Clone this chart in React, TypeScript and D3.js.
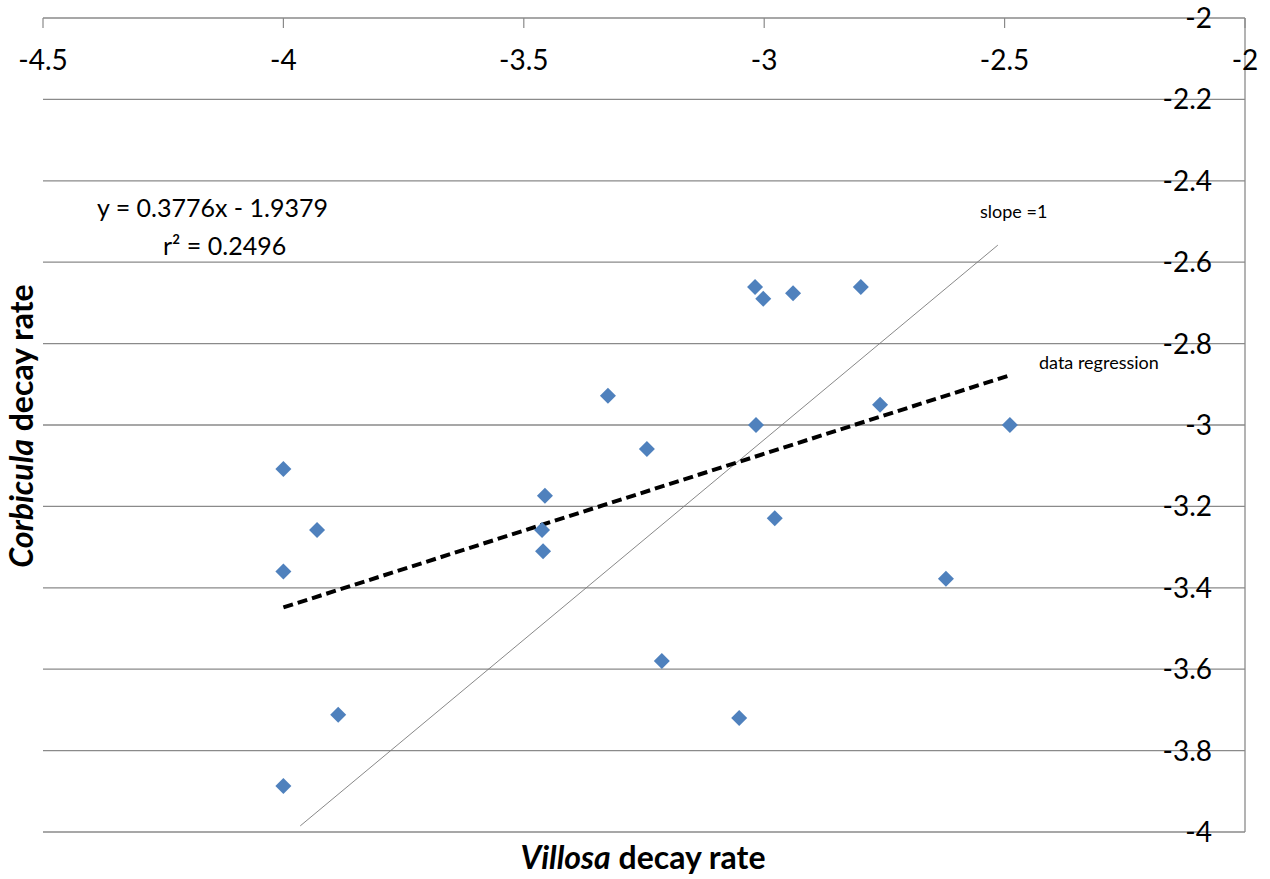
import * as d3 from "d3";
import { useEffect, useRef } from "react";

// Villosa (x) vs Corbicula (y) decay rates
const villosa = [-4.0, -3.93, -4.0, -3.886, -4.0, -3.325, -3.456, -3.462, -3.46, -3.244, -3.213, -3.052, -3.019, -3.002, -2.94, -3.017, -2.978, -2.799, -2.759, -2.622, -2.489];
const corbicula = [-3.108, -3.258, -3.36, -3.712, -3.887, -2.928, -3.174, -3.258, -3.31, -3.059, -3.58, -3.72, -2.661, -2.69, -2.676, -3.0, -3.229, -2.661, -2.95, -3.378, -3.0];

const xTicks = [-4.5, -4, -3.5, -3, -2.5, -2];
const yTicks = [-2, -2.2, -2.4, -2.6, -2.8, -3, -3.2, -3.4, -3.6, -3.8, -4];

const slope = 0.3776;
const intercept = -1.9379;
const slopeOneX = [-3.965, -2.514];
const slopeOneY = [-3.985, -2.558];

const W = 1270, H = 879;
const margin = { top: 18, right: 25, bottom: 47, left: 43 };
const font = "Lato, 'Open Sans', sans-serif";

const App = () => {
  const ref = useRef<SVGSVGElement>(null);

  useEffect(() => {
    const svg = d3.select(ref.current);
    svg.selectAll("*").remove();

    const x = d3.scaleLinear().domain([-4.5, -2]).range([margin.left, W - margin.right]);
    const y = d3.scaleLinear().domain([-2, -4]).range([margin.top, H - margin.bottom]);

    // horizontal gridlines
    svg.append("g")
      .selectAll("line")
      .data(yTicks)
      .enter()
      .append("line")
      .attr("x1", x(-4.5))
      .attr("x2", x(-2))
      .attr("y1", (d) => y(d))
      .attr("y2", (d) => y(d))
      .style("stroke", "#8a8a8a")
      .style("stroke-width", 1.3);

    // right vertical axis line
    svg.append("line")
      .attr("x1", x(-2)).attr("x2", x(-2))
      .attr("y1", y(-2)).attr("y2", y(-4))
      .style("stroke", "#8a8a8a")
      .style("stroke-width", 1.3);

    // top x-axis ticks
    svg.append("g")
      .selectAll("line")
      .data(xTicks)
      .enter()
      .append("line")
      .attr("x1", (d) => x(d))
      .attr("x2", (d) => x(d))
      .attr("y1", y(-2))
      .attr("y2", y(-2) + 10)
      .style("stroke", "#8a8a8a")
      .style("stroke-width", 1.2);

    svg.append("g")
      .selectAll("text")
      .data(xTicks)
      .enter()
      .append("text")
      .attr("x", (d) => x(d))
      .attr("y", 70)
      .attr("text-anchor", "middle")
      .style("font-family", font)
      .style("font-size", "28px")
      .style("fill", "#000")
      .text((d) => String(d));

    svg.append("g")
      .selectAll("text")
      .data(yTicks)
      .enter()
      .append("text")
      .attr("x", 1212)
      .attr("y", (d) => y(d) + 10)
      .attr("text-anchor", "end")
      .style("font-family", font)
      .style("font-size", "28px")
      .style("fill", "#000")
      .text((d) => String(d));

    // slope = 1 reference line
    svg.append("line")
      .attr("x1", x(slopeOneX[0])).attr("y1", y(slopeOneY[0]))
      .attr("x2", x(slopeOneX[1])).attr("y2", y(slopeOneY[1]))
      .style("stroke", "#7a7a7a")
      .style("stroke-width", 0.9);

    // regression line
    const xMin = d3.min(villosa)!, xMax = d3.max(villosa)!;
    svg.append("line")
      .attr("x1", x(xMin)).attr("y1", y(slope * xMin + intercept))
      .attr("x2", x(xMax)).attr("y2", y(slope * xMax + intercept))
      .style("stroke", "#000")
      .style("stroke-width", 4)
      .style("stroke-dasharray", "10,5");

    // points
    const diamond = d3.symbol().type(d3.symbolSquare).size(128);
    svg.append("g")
      .selectAll("path")
      .data(villosa.map((v, i) => [v, corbicula[i]]))
      .enter()
      .append("path")
      .attr("d", diamond)
      .attr("transform", (d) => `translate(${x(d[0])},${y(d[1])}) rotate(45)`)
      .style("fill", "#4f81bd");

    // annotations
    const ann = svg.append("g").style("font-family", font).style("fill", "#000");
    ann.append("text").attr("x", 97).attr("y", 217).style("font-size", "25px").text("y = 0.3776x - 1.9379");
    ann.append("text").attr("x", 163).attr("y", 255).style("font-size", "25px").text("r² = 0.2496");
    ann.append("text").attr("x", 980).attr("y", 218).style("font-size", "18px").text("slope =1");
    ann.append("text").attr("x", 1039).attr("y", 369).style("font-size", "18px").text("data regression");

    // axis titles
    const xt = svg.append("text")
      .attr("x", 643).attr("y", 869)
      .attr("text-anchor", "middle")
      .style("font-family", font)
      .style("font-size", "32px")
      .style("font-weight", "bold");
    xt.append("tspan").style("font-style", "italic").text("Villosa");
    xt.append("tspan").text(" decay rate");

    const yt = svg.append("text")
      .attr("transform", "translate(33,426) rotate(-90)")
      .attr("text-anchor", "middle")
      .style("font-family", font)
      .style("font-size", "32px")
      .style("font-weight", "bold");
    yt.append("tspan").style("font-style", "italic").text("Corbicula");
    yt.append("tspan").text(" decay rate");
  }, []);

  return (
    <svg ref={ref} width={W} height={H} style={{ position: "absolute", left: 0, top: 0, background: "#fff" }} />
  );
};

export default App;
